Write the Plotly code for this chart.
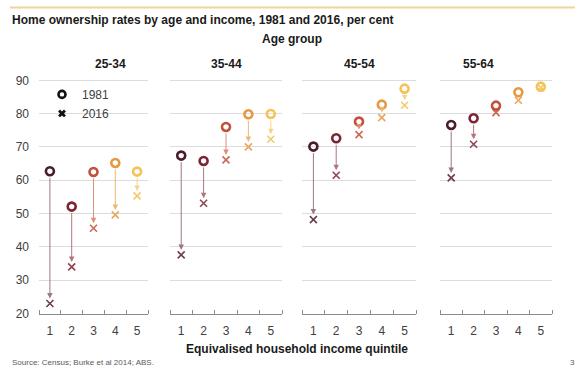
import plotly.graph_objects as go

# Home ownership rates (%) by equivalised household income quintile
quintiles = [1, 2, 3, 4, 5]
age_groups = ["25-34", "35-44", "45-54", "55-64"]
rate_1981 = {
    "25-34": [62.7, 52.1, 62.5, 65.2, 62.6],
    "35-44": [67.4, 65.8, 76.0, 79.8, 79.9],
    "45-54": [70.1, 72.6, 77.6, 82.7, 87.5],
    "55-64": [76.6, 78.6, 82.4, 86.4, 88.1],
}
rate_2016 = {
    "25-34": [23.0, 34.0, 45.6, 49.6, 55.3],
    "35-44": [37.6, 53.1, 66.1, 70.0, 72.3],
    "45-54": [48.2, 61.5, 73.7, 78.8, 82.5],
    "55-64": [60.7, 70.8, 80.3, 84.0, 87.8],
}
y_ticks = [20, 30, 40, 50, 60, 70, 80, 90]

col_1981 = ["#4a1b2d", "#7b2536", "#c2503b", "#e59a42", "#f5c35a"]
col_2016 = ["#6e3c4c", "#904454", "#cb6a55", "#e9a65c", "#f0cc6c"]
col_link = ["#9a7882", "#b07580", "#dc9078", "#efb676", "#f6d38a"]

W, H = 585, 376
panel_px = [(39, 148), (170, 282), (302, 416), (440, 552)]
y_bottom_px, y_top_px = 319, 76
y_range = [20, 91]

fig = go.Figure()
layout = {}
annotations = []

for k, (grp, (x0, x1)) in enumerate(zip(age_groups, panel_px)):
    sfx = "" if k == 0 else str(k + 1)
    xa, ya = "x" + sfx, "y" + sfx
    for i, q in enumerate(quintiles):
        annotations.append(dict(
            x=q, y=rate_2016[grp][i], ax=q, ay=rate_1981[grp][i],
            xref=xa, yref=ya, axref=xa, ayref=ya, text="", showarrow=True,
            arrowhead=2, arrowsize=1.1, arrowwidth=1, arrowcolor=col_link[i],
            standoff=5, startstandoff=5))
        fig.add_trace(go.Scatter(
            x=[q], y=[rate_2016[grp][i]], xaxis=xa, yaxis=ya, mode="markers",
            marker=dict(symbol="x-thin-open", size=7, color=col_2016[i],
                        line=dict(color=col_2016[i], width=1.6)),
            showlegend=False, hoverinfo="skip"))
        fig.add_trace(go.Scatter(
            x=[q], y=[rate_1981[grp][i]], xaxis=xa, yaxis=ya, mode="markers",
            marker=dict(symbol="circle-open", size=8, color=col_1981[i],
                        line=dict(color=col_1981[i], width=2.6)),
            showlegend=False, hoverinfo="skip"))

    layout["xaxis" + sfx] = dict(
        domain=[x0 / W, x1 / W], range=[0.5, 5.5], anchor=ya,
        tickvals=quintiles, ticks="", showgrid=False, zeroline=False,
        showline=True, linecolor="#8c8c8c", linewidth=1,
        ticklabelstandoff=6,
        minor=dict(tickvals=[0.5, 1.5, 2.5, 3.5, 4.5, 5.5], ticks="inside",
                   ticklen=4, tickcolor="#8c8c8c", showgrid=False),
        tickfont=dict(size=12, color="#404040"), fixedrange=True)
    layout["yaxis" + sfx] = dict(
        domain=[1 - y_bottom_px / H, 1 - y_top_px / H], range=y_range,
        anchor=xa, tickvals=y_ticks, showticklabels=(k == 0),
        ticklabelstandoff=9, showgrid=True, gridcolor="#dcdcdc",
        gridwidth=1, zeroline=False, showline=False,
        tickfont=dict(size=12, color="#404040"), fixedrange=True)
    annotations.append(dict(
        x=(x0 + x1) / 2 / W, y=1 - 63 / H, xref="paper", yref="paper",
        yanchor="middle", text="<b>%s</b>" % grp, showarrow=False,
        font=dict(size=12, color="#1a1a1a")))

# Legend entries (marker style only)
fig.add_trace(go.Scatter(
    x=[None], y=[None], mode="markers", name="1981",
    marker=dict(symbol="circle-open", size=7, color="#111111",
                line=dict(color="#111111", width=2.6))))
fig.add_trace(go.Scatter(
    x=[None], y=[None], mode="markers", name="2016",
    marker=dict(symbol="x", size=7, color="#111111", line=dict(width=0))))

annotations += [
    dict(x=10 / W, y=1 - 17 / H, xref="paper", yref="paper", xanchor="left",
         yanchor="middle",
         text="<b>Home ownership rates by age and income, 1981 and 2016, per cent</b>",
         showarrow=False, font=dict(size=12, color="#1a1a1a")),
    dict(x=292 / W, y=1 - 37 / H, xref="paper", yref="paper", yanchor="middle",
         text="<b>Age group</b>", showarrow=False,
         font=dict(size=12, color="#1a1a1a")),
    dict(x=297 / W, y=1 - 355 / H, xref="paper", yref="paper", yanchor="middle",
         text="<b>Equivalised household income quintile</b>", showarrow=False,
         font=dict(size=12, color="#1a1a1a")),
    dict(x=10 / W, y=1 - 369 / H, xref="paper", yref="paper", xanchor="left",
         yanchor="middle",
         text="Source: Census; Burke et al 2014; ABS.", showarrow=False,
         font=dict(size=8, color="#595959")),
    dict(x=577 / W, y=1 - 369 / H, xref="paper", yref="paper", xanchor="right",
         yanchor="middle", text="3", showarrow=False,
         font=dict(size=8, color="#595959")),
]

fig.update_layout(
    width=W, height=H, margin=dict(l=0, r=0, t=0, b=0),
    paper_bgcolor="white", plot_bgcolor="white",
    font=dict(family="Arial, Liberation Sans, sans-serif", color="#404040"),
    showlegend=True,
    legend=dict(x=42 / W, y=1 - 79 / H, xanchor="left", yanchor="top",
                bgcolor="rgba(0,0,0,0)", font=dict(size=12, color="#404040"),
                itemwidth=30, tracegroupgap=0),
    annotations=annotations,
    shapes=[dict(type="line", xref="paper", yref="paper",
                 x0=10 / W, x1=575 / W, y0=1 - 4.5 / H, y1=1 - 4.5 / H,
                 line=dict(color="#f2d49a", width=2))],
    **layout,
)

fig.write_html("out.html")
